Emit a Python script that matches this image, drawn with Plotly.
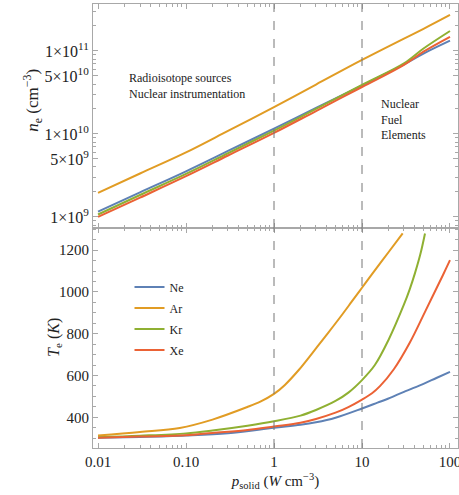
import plotly.graph_objects as go
from plotly.subplots import make_subplots

# ---------------- data ----------------
gases = ["Ne", "Ar", "Kr", "Xe"]
colors = ["#5E81B5", "#E19C24", "#8FB032", "#EB6235"]

# electron density (cm^-3) vs power density
p_ne = [0.01, 0.03, 0.1, 0.3, 1, 3, 10, 30, 50, 100]
ne_Ne = [1.16e9, 1.98e9, 3.55e9, 6.24e9, 1.16e10, 2.06e10, 3.86e10, 6.9e10, 9.3e10, 1.33e11]
ne_Ar = [1.95e9, 3.34e9, 6.0e9, 1.09e10, 2.11e10, 3.94e10, 7.8e10, 1.41e11, 1.85e11, 2.72e11]
ne_Kr = [1.07e9, 1.84e9, 3.3e9, 5.86e9, 1.1e10, 2.0e10, 3.9e10, 7.1e10, 1.07e11, 1.74e11]
ne_Xe = [1.0e9, 1.71e9, 3.1e9, 5.5e9, 1.03e10, 1.89e10, 3.68e10, 6.8e10, 9.8e10, 1.48e11]

# electron temperature (K) vs power density
p_Ne = [0.01, 0.03, 0.1, 0.3, 1, 2, 3, 5, 10, 15, 20, 30, 50, 70, 100]
Te_Ne = [302, 306, 313, 324, 350, 364, 376, 398, 442, 470, 490, 522, 560, 588, 617]
p_Ar = [0.01, 0.03, 0.085, 0.2, 0.49, 0.7, 1, 1.33, 1.9, 2.7, 3.8, 5.4, 7.6, 10, 13, 20, 29]
Te_Ar = [313, 330, 349, 389, 448, 475, 512, 555, 625, 705, 785, 868, 952, 1020, 1085, 1190, 1280]
p_Kr = [0.01, 0.03, 0.1, 0.2, 0.5, 1, 2, 3, 5, 7, 10, 14, 20, 30, 35, 40, 46, 52]
Te_Kr = [305, 312, 323, 337, 360, 381, 408, 435, 478, 518, 578, 650, 770, 940, 1015, 1090, 1180, 1280]
p_Xe = [0.01, 0.03, 0.1, 0.2, 0.5, 1, 2, 3, 5, 7, 10, 13, 16, 23, 35, 53, 83, 100]
Te_Xe = [302, 308, 314, 325, 339, 356, 374, 392, 422, 449, 485, 515, 549, 630, 758, 912, 1080, 1152]

ne_series = [ne_Ne, ne_Ar, ne_Kr, ne_Xe]
Te_series = [(p_Ne, Te_Ne), (p_Ar, Te_Ar), (p_Kr, Te_Kr), (p_Xe, Te_Xe)]

x_tickvals = [0.01, 0.1, 1, 10, 100]
x_ticktext = ["0.01", "0.10", "1", "10", "100"]
ne_tickvals = [1e9, 5e9, 1e10, 5e10, 1e11]
ne_ticktext = ["1×10<sup>9</sup>", "5×10<sup>9</sup>", "1×10<sup>10</sup>",
               "5×10<sup>10</sup>", "1×10<sup>11</sup>"]
Te_tickvals = [400, 600, 800, 1000, 1200]
guide_p = [1, 10]

# ---------------- figure ----------------
FONT = "Liberation Serif"
FRAME = "#a8a8a8"
TXT = "#222222"

fig = make_subplots(rows=2, cols=1, shared_xaxes=True, vertical_spacing=0)

for i, g in enumerate(gases):
    fig.add_trace(go.Scatter(x=p_ne, y=ne_series[i], mode="lines", name=g,
                             line=dict(color=colors[i], width=2, shape="spline"),
                             showlegend=False, legendgroup=g), row=1, col=1)
for i, g in enumerate(gases):
    px_, ty = Te_series[i]
    fig.add_trace(go.Scatter(x=px_, y=ty, mode="lines", name=g,
                             line=dict(color=colors[i], width=2, shape="spline"),
                             showlegend=True, legendgroup=g), row=2, col=1)

minor_x = [m * 10 ** e for e in range(-3, 3) for m in range(2, 10)]
minor_ne = [m * 10 ** e for e in range(8, 12) for m in range(2, 10)]

xcommon = dict(type="log", range=[-2.057, 2.091], showgrid=False, zeroline=False,
               showline=True, linecolor=FRAME, linewidth=1, mirror="allticks",
               ticks="inside", ticklen=5, tickcolor=FRAME,
               tickvals=x_tickvals, ticktext=x_ticktext,
               ticklabeloverflow="allow", automargin=False,
               minor=dict(ticks="inside", ticklen=3, tickcolor=FRAME, tickvals=minor_x, showgrid=False),
               tickfont=dict(family=FONT, size=15, color=TXT))

fig.update_xaxes(**xcommon)
fig.update_xaxes(showticklabels=False, row=1, col=1)
fig.update_xaxes(row=2, col=1, title=dict(
    text="<i>p</i><sub>solid</sub> (<i>W</i> cm<sup>−3</sup>)",
    font=dict(family=FONT, size=15, color=TXT), standoff=6))

fig.update_yaxes(row=1, col=1, type="log", range=[8.867, 11.566], showgrid=False, zeroline=False,
                 showline=True, linecolor=FRAME, linewidth=1, mirror="allticks",
                 ticks="inside", ticklen=5, tickcolor=FRAME,
                 tickvals=ne_tickvals, ticktext=ne_ticktext,
                 minor=dict(ticks="inside", ticklen=3, tickcolor=FRAME, tickvals=minor_ne, showgrid=False),
                 tickfont=dict(family=FONT, size=16, color=TXT))
fig.update_yaxes(row=2, col=1, range=[253, 1306], showgrid=False, zeroline=False,
                 showline=True, linecolor=FRAME, linewidth=1, mirror="allticks",
                 ticks="inside", ticklen=5, tickcolor=FRAME,
                 tickvals=Te_tickvals,
                 minor=dict(ticks="inside", ticklen=3, tickcolor=FRAME, dtick=50, showgrid=False),
                 tickfont=dict(family=FONT, size=15, color=TXT))

split = 0.4955
fig.update_layout(yaxis=dict(domain=[split, 1]), yaxis2=dict(domain=[0, split]))

for p in guide_p:
    for ax, yr in [("x", "y domain"), ("x2", "y2 domain")]:
        fig.add_shape(type="line", xref=ax, yref=yr, x0=p, x1=p,
                      y0=0, y1=1, line=dict(color="#777777", width=1, dash="dash"))

# axis titles as annotations
fig.add_annotation(text="<i>n</i><sub>e</sub> (cm<sup>−3</sup>)", xref="paper", yref="paper",
                   x=-0.165, y=0.784, xanchor="center", yanchor="middle", textangle=-90,
                   showarrow=False, font=dict(family=FONT, size=17, color=TXT))
fig.add_annotation(text="<i>T</i><sub>e</sub> (<i>K</i>)", xref="paper", yref="paper",
                   x=-0.107, y=0.25, xanchor="center", yanchor="middle", textangle=-90,
                   showarrow=False, font=dict(family=FONT, size=16, color=TXT))

fig.add_annotation(text="Radioisotope sources<br>Nuclear instrumentation",
                   xref="x domain", yref="y domain", x=0.093, y=0.636,
                   xanchor="left", yanchor="middle", align="left", showarrow=False,
                   font=dict(family=FONT, size=12, color=TXT))
fig.add_annotation(text="Nuclear<br>Fuel<br>Elements",
                   xref="x domain", yref="y domain", x=0.784, y=0.484,
                   xanchor="left", yanchor="middle", align="left", showarrow=False,
                   font=dict(family=FONT, size=12, color=TXT))

fig.update_layout(
    width=459, height=495,
    margin=dict(l=93, r=1, t=4, b=47),
    paper_bgcolor="white", plot_bgcolor="white",
    font=dict(family=FONT),
    legend=dict(x=0.10, y=0.3955, xanchor="left", yanchor="top",
                bgcolor="rgba(0,0,0,0)", tracegroupgap=2,
                font=dict(family=FONT, size=12, color=TXT)),
)

fig.write_html("out.html", config={"displayModeBar": False},
               post_script="document.body.style.margin='0';")
